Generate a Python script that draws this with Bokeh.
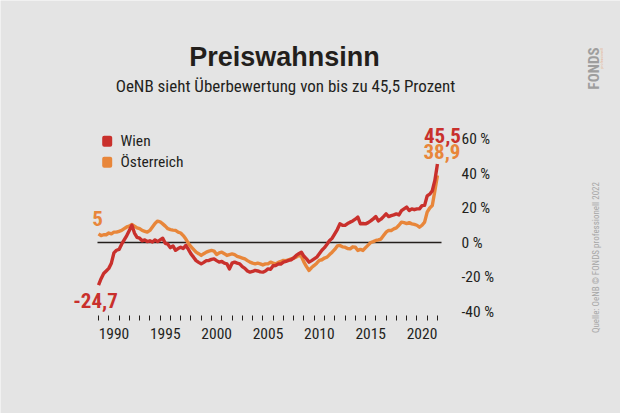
import math
from bokeh.plotting import figure
from bokeh.models import (Range1d, FixedTicker, Label, BoxAnnotation, LinearAxis,
                          CustomJSTickFormatter)
from bokeh.embed import file_html
from bokeh.resources import INLINE

BG = "#e4e4e4"
RED = "#c9302c"
ORANGE = "#e8863a"
INK = "#231f1c"
GREY = "#9e9e9e"
COND = "Roboto Condensed"

# ---- data (quarterly, from 1989 Q1 to 2022 Q1), in % over/under valuation
start_year = 1989.0
wien = [
    -24.7, -21, -18, -16.5,      # 1989
    -15, -12, -6, -4.5,          # 1990
    -4, -1, 1.5, 4,              # 1991
    7, 10, 5.5, 3,               # 1992
    2.5, 1, 1.5, 0.5,            # 1993
    1, 0.3, 1.5, 0.5,            # 1994
    1.5, 2.5, -0.5, -1,          # 1995
    -3, -2, -4.5, -3.5,          # 1996
    -2.7, -3.5, -1.7, -4,        # 1997
    -6.6, -8.5, -10.5, -11.5,    # 1998
    -12.4, -11.5, -10.5, -10.4,  # 1999
    -9.8, -9.5, -10.5, -11.4,    # 2000
    -11, -12, -12.4, -15.3,      # 2001
    -12, -11.4, -12, -12.4,      # 2002
    -14, -15, -16.5, -17.2,      # 2003
    -16.8, -16.2, -16.5, -17,    # 2004
    -17.2, -16.5, -15.3, -15.5,  # 2005
    -13.5, -13.3, -12.5, -12.5,  # 2006
    -11.4, -11, -10.4, -10,      # 2007
    -9, -7.5, -6.5, -5.6,        # 2008
    -8, -9.5, -11.4, -10.5,      # 2009
    -9.5, -8.5, -6.5, -4.5,      # 2010
    -3, -1, 1.2, 2.5,            # 2011
    5, 7.5, 10.8, 10,            # 2012
    9.9, 11, 11.8, 12.5,         # 2013
    13.5, 14.7, 10.8, 11,        # 2014
    10.8, 11.5, 12.5, 13.7,      # 2015
    15, 12.5, 13.5, 15,          # 2016
    16.6, 15, 15.6, 16,          # 2017
    16.6, 16, 18.5, 19.5,        # 2018
    20.5, 18.5, 19.5, 19,        # 2019
    19.5, 19.5, 21.4, 21.5,      # 2020
    27, 28, 30, 36,              # 2021
    45.5,                        # 2022
]
oesterreich = [
    5, 4, 4.5, 4.5,              # 1989
    5.5, 5, 6, 6,                # 1990
    6.5, 7, 8, 9,                # 1991
    9.5, 10.4, 9.5, 8.5,         # 1992
    8, 7, 6.5, 6,                # 1993
    7, 9, 11, 12.4,              # 1994
    12, 10.8, 9.5, 8,            # 1995
    7.5, 7.2, 7, 6,              # 1996
    5.5, 4, 2, -0.5,             # 1997
    -2.5, -4, -5.6, -6.5,        # 1998
    -7.5, -6.5, -5.6, -5,        # 1999
    -4.6, -5, -7, -6,            # 2000
    -5.6, -6.5, -7.5, -7,        # 2001
    -6.6, -7, -8, -8.5,          # 2002
    -9, -9.5, -10.5, -11.4,      # 2003
    -12, -12.4, -12, -12.4,      # 2004
    -13, -12.4, -12.4, -11.4,    # 2005
    -12, -12.4, -11.5, -11,      # 2006
    -10.4, -10.5, -10, -9.5,     # 2007
    -9, -8.5, -7.5, -8,          # 2008
    -11.4, -14, -16.2, -14.5,    # 2009
    -13.3, -12, -10.4, -10,      # 2010
    -9, -8.5, -7, -5.6,          # 2011
    -4, -2, -1.7, -2.5,          # 2012
    -2.7, -3.5, -3.7, -2.5,      # 2013
    -2.7, -4.6, -4, -4.6,        # 2014
    -3, -1.5, 0, 0.5,            # 2015
    1.2, 1.5, 2, 4,              # 2016
    6, 7, 7, 7.9,                # 2017
    8.5, 10, 11.8, 11.5,         # 2018
    11, 11.5, 10.8, 10.5,        # 2019
    10, 8.9, 10, 11.8,           # 2020
    17.6, 20, 21.4, 30,          # 2021
    38.9,                        # 2022
]
quarters = [start_year + 0.25 * i for i in range(len(wien))]

x_tick_years = list(range(1989, 2023))
x_label_years = [1990, 1995, 2000, 2005, 2010, 2015, 2020]
y_ticks = [-40, -20, 0, 20, 40, 60]
y_tick_labels = ["-40 %", "-20 %", "0 %", "20 %", "40 %", "60 %"]

series_names = ["Wien", "Österreich"]
title_text = "Preiswahnsinn"
subtitle_text = "OeNB sieht Überbewertung von bis zu 45,5 Prozent"
source_text = "Quelle: OeNB © FONDS professionell 2022"

# ---- layout constants (pixels on the 620x413 canvas)
W, H = 620, 413
PX_PER_YEAR = 10.27
X_1990 = 108.3          # canvas x of 1990-01-01
PX_PER_PCT = 1.725
Y_ZERO = 242.0          # canvas y of 0 %
AXIS_LEFT_PX, AXIS_RIGHT_PX, AXIS_BOTTOM_PX = 97, 441, 315

def xdata(px):
    return 1990 + (px - X_1990) / PX_PER_YEAR

def ydata(py):
    return (Y_ZERO - py) / PX_PER_PCT

p = figure(width=W, height=H, output_backend="svg", toolbar_location=None,
           title=None, x_axis_location=None, y_axis_location=None,
           x_range=Range1d(xdata(0), xdata(W)), y_range=Range1d(ydata(H), ydata(0)),
           min_border=0, min_border_left=0, min_border_right=0,
           min_border_top=0, min_border_bottom=0,
           background_fill_color=BG, border_fill_color=BG,
           outline_line_color=None)
p.xgrid.visible = False
p.ygrid.visible = False

xa = LinearAxis(fixed_location=ydata(AXIS_BOTTOM_PX))
xa.ticker = FixedTicker(ticks=[y + 0.5 for y in x_label_years],
                        minor_ticks=x_tick_years)
xa.formatter = CustomJSTickFormatter(code="return String(Math.floor(tick));")
xa.axis_line_color = None
xa.major_tick_line_color = None
xa.major_tick_in = 0
xa.major_tick_out = 0
xa.minor_tick_in = 0
xa.minor_tick_out = 5
xa.minor_tick_line_color = INK
xa.minor_tick_line_width = 1
xa.major_label_standoff = 7
xa.major_label_text_font = COND
xa.major_label_text_font_size = "15.5px"
xa.major_label_text_color = INK
p.add_layout(xa, "below")

ya = LinearAxis(fixed_location=xdata(AXIS_RIGHT_PX))
ya.ticker = FixedTicker(ticks=y_ticks)
ya.major_label_overrides = {t: l for t, l in zip(y_ticks, y_tick_labels)}
ya.axis_line_color = None
ya.major_tick_line_color = None
ya.minor_tick_line_color = None
ya.major_tick_in = 0
ya.major_tick_out = 0
ya.major_label_standoff = 20
ya.major_label_text_font = COND
ya.major_label_text_font_size = "15.5px"
ya.major_label_text_color = INK
p.add_layout(ya, "right")

# zero reference line, spanning the axis extent
p.segment(x0=[xdata(AXIS_LEFT_PX)], y0=[0], x1=[xdata(AXIS_RIGHT_PX)], y1=[0],
          line_color=INK, line_width=1.3)

p.line(quarters, oesterreich, line_color=ORANGE, line_width=3.4, line_join="round")
p.line(quarters, wien, line_color=RED, line_width=3.4, line_join="round")

# canvas coords -> screen units (frame == canvas, y upward)
def sy(Y):
    return H - Y

# title & subtitle
p.add_layout(Label(x=284, y=sy(56), x_units="screen", y_units="screen",
                   text=title_text, text_align="center", text_baseline="alphabetic",
                   text_font="Liberation Sans", text_font_style="bold",
                   text_font_size="27px", text_color=INK))
p.add_layout(Label(x=285, y=sy(85), x_units="screen", y_units="screen",
                   text=subtitle_text, text_align="center", text_baseline="alphabetic",
                   text_font=COND, text_font_size="17px", text_color=INK))

# legend
for i, (name, col) in enumerate(zip(series_names, [RED, ORANGE])):
    cy = 140.7 + 21 * i
    p.add_layout(BoxAnnotation(left=101.7, right=111.7,
                               top=sy(cy - 5.5), bottom=sy(cy + 5.5),
                               left_units="screen", right_units="screen",
                               top_units="screen", bottom_units="screen",
                               fill_color=col, fill_alpha=1, line_color=None,
                               border_radius=2))
    p.add_layout(Label(x=120, y=sy(cy), x_units="screen", y_units="screen",
                       text=name, text_baseline="middle", text_align="left",
                       text_font=COND, text_font_size="15.5px",
                       text_color=INK))

# value labels at start/end of series
def fmt(v):
    return ("%g" % v).replace(".", ",")

p.add_layout(Label(x=quarters[0], y=oesterreich[0], text=fmt(oesterreich[0]),
                   x_offset=-1, y_offset=15, text_align="center", text_baseline="middle",
                   text_font=COND, text_font_style="bold", text_font_size="21px",
                   text_color=ORANGE))
p.add_layout(Label(x=quarters[0], y=wien[0], text=fmt(wien[0]),
                   x_offset=-3, y_offset=-15, text_align="center", text_baseline="middle",
                   text_font=COND, text_font_style="bold", text_font_size="21px",
                   text_color=RED))
p.add_layout(Label(x=quarters[-1], y=wien[-1], text=fmt(wien[-1]),
                   x_offset=5, y_offset=28.5, text_align="center", text_baseline="middle",
                   text_font=COND, text_font_style="bold", text_font_size="21px",
                   text_color=RED))
p.add_layout(Label(x=quarters[-1], y=oesterreich[-1], text=fmt(oesterreich[-1]),
                   x_offset=4.5, y_offset=23.5, text_align="center", text_baseline="middle",
                   text_font=COND, text_font_style="bold", text_font_size="21px",
                   text_color=ORANGE))

# vertical brand / source texts
p.add_layout(Label(x=593, y=sy(68), x_units="screen", y_units="screen",
                   text="FONDS", angle=math.pi / 2, text_align="center",
                   text_baseline="middle", text_font=COND,
                   text_font_style="bold", text_font_size="15px", text_color=GREY))
p.add_layout(Label(x=600.5, y=sy(58), x_units="screen", y_units="screen",
                   text="professionell", angle=math.pi / 2, text_align="center",
                   text_baseline="middle", text_font=COND,
                   text_font_size="4px", text_color=ORANGE, text_alpha=0.6))
p.add_layout(Label(x=595, y=sy(257), x_units="screen", y_units="screen",
                   text=source_text, angle=math.pi / 2, text_align="center",
                   text_baseline="middle", text_font=COND,
                   text_font_size="9px", text_color="#a6a6a6"))

open("out.html", "w").write(file_html(p, INLINE))
